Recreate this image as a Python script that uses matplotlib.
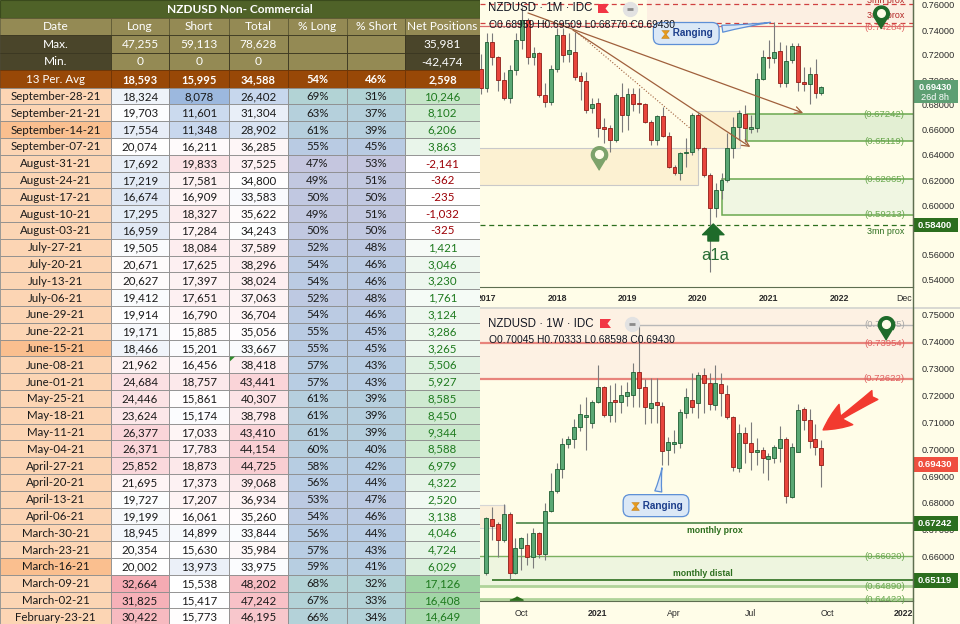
import numpy as np
import matplotlib
matplotlib.use("Agg")
import matplotlib.pyplot as plt
from matplotlib.patches import Rectangle, Polygon
from matplotlib.lines import Line2D
from matplotlib.colors import to_rgb
from matplotlib.ticker import FormatStrFormatter
from matplotlib.transforms import ScaledTranslation

plt.rcParams['font.family'] = ['Liberation Sans', 'DejaVu Sans']
TABLE_FONT = ['Lato', 'DejaVu Sans']

# ---------------- table data ----------------
table_title = "NZDUSD Non- Commercial"
headers = ["Date", "Long", "Short", "Total", "% Long", "% Short", "Net Positions"]
max_vals = [47255, 59113, 78628, 35981]
min_vals = [0, 0, 0, -42474]
avg_vals = [18593, 15995, 34588, 54, 46, 2598]

dates = ["September-28-21", "September-21-21", "September-14-21", "September-07-21",
         "August-31-21", "August-24-21", "August-17-21", "August-10-21", "August-03-21",
         "July-27-21", "July-20-21", "July-13-21", "July-06-21", "June-29-21",
         "June-22-21", "June-15-21", "June-08-21", "June-01-21", "May-25-21",
         "May-18-21", "May-11-21", "May-04-21", "April-27-21", "April-20-21",
         "April-13-21", "April-06-21", "March-30-21", "March-23-21", "March-16-21",
         "March-09-21", "March-02-21", "February-23-21"]
long_pos = [18324, 19703, 17554, 20074, 17692, 17219, 16674, 17295, 16959, 19505, 20671,
            20627, 19412, 19914, 19171, 18466, 21962, 24684, 24446, 23624, 26377, 26371,
            25852, 21695, 19727, 19199, 18945, 20354, 20002, 32664, 31825, 30422]
short_pos = [8078, 11601, 11348, 16211, 19833, 17581, 16909, 18327, 17284, 18084, 17625,
             17397, 17651, 16790, 15885, 15201, 16456, 18757, 15861, 15174, 17033, 17783,
             18873, 17373, 17207, 16061, 14899, 15630, 13973, 15538, 15417, 15773]
total_pos = [26402, 31304, 28902, 36285, 37525, 34800, 33583, 35622, 34243, 37589, 38296,
             38024, 37063, 36704, 35056, 33667, 38418, 43441, 40307, 38798, 43410, 44154,
             44725, 39068, 36934, 35260, 33844, 35984, 33975, 48202, 47242, 46195]
pct_long = [69, 63, 61, 55, 47, 49, 50, 49, 50, 52, 54, 54, 52, 54, 55, 55, 57, 57, 61,
            61, 61, 60, 58, 56, 53, 54, 56, 57, 59, 68, 67, 66]
pct_short = [31, 37, 39, 45, 53, 51, 50, 51, 50, 48, 46, 46, 48, 46, 45, 45, 43, 43, 39,
             39, 39, 40, 42, 44, 47, 46, 44, 43, 41, 32, 33, 34]
net_pos = [10246, 8102, 6206, 3863, -2141, -362, -235, -1032, -325, 1421, 3046, 3230, 1761,
           3124, 3286, 3265, 5506, 5927, 8585, 8450, 9344, 8588, 6979, 4322, 2520, 3138,
           4046, 4724, 6029, 17126, 16408, 14649]
highlight_dates = ["September-14-21", "June-15-21", "March-16-21"]

# ---------------- monthly candles (Dec 2016 .. Oct 2021) ----------------
m_open = [0.7090, 0.6935, 0.7307, 0.7187, 0.7000, 0.6853, 0.7080, 0.7320, 0.7480, 0.7187,
          0.7213, 0.6880, 0.6827, 0.7088, 0.7360, 0.7208, 0.7227, 0.7032, 0.6995, 0.6773,
          0.6813, 0.6621, 0.6613, 0.6520, 0.6867, 0.6720, 0.6890, 0.6810, 0.6805, 0.6667,
          0.6520, 0.6712, 0.6552, 0.6307, 0.6253, 0.6413, 0.6427, 0.6720, 0.6453, 0.6240,
          0.5973, 0.6120, 0.6200, 0.6453, 0.6627, 0.6725, 0.6605, 0.6613, 0.7005, 0.7181,
          0.7173, 0.7232, 0.6973, 0.7160, 0.7272, 0.6987, 0.6968, 0.7048, 0.68959]
m_high = [0.7210, 0.7373, 0.7373, 0.7195, 0.7067, 0.7120, 0.7373, 0.7587, 0.7500, 0.7265,
          0.7227, 0.6973, 0.7120, 0.7413, 0.7413, 0.7373, 0.7387, 0.7067, 0.7067, 0.6853,
          0.6853, 0.6693, 0.6640, 0.6893, 0.6973, 0.6940, 0.6940, 0.6933, 0.6820, 0.6680,
          0.6720, 0.6787, 0.6587, 0.6320, 0.6427, 0.6533, 0.6733, 0.6733, 0.6467, 0.6253,
          0.6173, 0.6253, 0.6573, 0.6707, 0.6760, 0.6800, 0.6720, 0.7053, 0.7240, 0.7320,
          0.7467, 0.7307, 0.7280, 0.7293, 0.7293, 0.7107, 0.7107, 0.7165, 0.69509]
m_low = [0.6890, 0.6907, 0.7120, 0.6915, 0.6840, 0.6813, 0.7040, 0.7250, 0.7130, 0.7120,
         0.6867, 0.6787, 0.6800, 0.7067, 0.7147, 0.7147, 0.7000, 0.6840, 0.6733, 0.6733,
         0.6547, 0.6493, 0.6427, 0.6507, 0.6587, 0.6600, 0.6750, 0.6733, 0.6653, 0.6480,
         0.6480, 0.6547, 0.6293, 0.6240, 0.6200, 0.6307, 0.6400, 0.6440, 0.6227, 0.5467,
         0.5907, 0.6050, 0.6187, 0.6380, 0.6520, 0.6507, 0.6573, 0.6587, 0.7000, 0.7093,
         0.7133, 0.6947, 0.6947, 0.7140, 0.6915, 0.6915, 0.6808, 0.6853, 0.68770]
m_close = [0.6935, 0.7307, 0.7187, 0.7000, 0.6853, 0.7080, 0.7320, 0.7480, 0.7187, 0.7213,
           0.6880, 0.6827, 0.7088, 0.7360, 0.7200, 0.7240, 0.7027, 0.6995, 0.6760, 0.6805,
           0.6613, 0.6605, 0.6520, 0.6880, 0.6720, 0.6890, 0.6810, 0.6805, 0.6667, 0.6520,
           0.6712, 0.6552, 0.6307, 0.6253, 0.6413, 0.6427, 0.6720, 0.6453, 0.6240, 0.5973,
           0.6120, 0.6200, 0.6453, 0.6627, 0.6733, 0.6613, 0.6620, 0.7005, 0.7181, 0.7173,
           0.7221, 0.6973, 0.7155, 0.7272, 0.6987, 0.6968, 0.7048, 0.6899, 0.69430]
month_ticks = [0, 12, 24, 36, 48, 60, 71]
month_labels = ["2017", "2018", "2019", "2020", "2021", "2022", "Dec"]
top_price_ticks = [0.54, 0.56, 0.60, 0.62, 0.64, 0.66, 0.68, 0.70, 0.72, 0.74, 0.76]

# ---------------- weekly candles (Aug 23 2020 .. Sep 26 2021) ----------------
w_open = [0.6538, 0.6739, 0.6721, 0.6662, 0.6757, 0.6540, 0.6633, 0.6643, 0.6600, 0.6687,
          0.6610, 0.6770, 0.6846, 0.6925, 0.7018, 0.7037, 0.7084, 0.7121, 0.7099, 0.7177,
          0.7231, 0.7128, 0.7183, 0.7175, 0.7198, 0.7202, 0.7289, 0.7230, 0.7155, 0.7175,
          0.7161, 0.6997, 0.7020, 0.7025, 0.7134, 0.7183, 0.7173, 0.7277, 0.7248, 0.7165,
          0.7243, 0.7206, 0.7121, 0.6929, 0.7059, 0.7022, 0.6991, 0.6999, 0.6965, 0.6966,
          0.7003, 0.7037, 0.6821, 0.6991, 0.7149, 0.7109, 0.7037, 0.70045]
w_high = [0.6749, 0.6786, 0.6730, 0.6796, 0.6767, 0.6668, 0.6674, 0.6687, 0.6705, 0.6693,
          0.6801, 0.6913, 0.6947, 0.7041, 0.7049, 0.7111, 0.7168, 0.7196, 0.7183, 0.7314,
          0.7235, 0.7239, 0.7245, 0.7239, 0.7252, 0.7320, 0.7463, 0.7260, 0.7264, 0.7264,
          0.7177, 0.7047, 0.7072, 0.7149, 0.7227, 0.7283, 0.7289, 0.7301, 0.7285, 0.7314,
          0.7285, 0.7239, 0.7125, 0.7094, 0.7082, 0.7103, 0.7041, 0.7010, 0.6987, 0.7016,
          0.7087, 0.7047, 0.7022, 0.7169, 0.7156, 0.7149, 0.7094, 0.70333]
w_low = [0.6532, 0.6662, 0.6600, 0.6655, 0.6513, 0.6535, 0.6550, 0.6569, 0.6556, 0.6594,
         0.6588, 0.6766, 0.6836, 0.6892, 0.7004, 0.7004, 0.7068, 0.6997, 0.7080, 0.7174,
         0.7119, 0.7103, 0.7103, 0.7134, 0.7161, 0.7159, 0.7159, 0.7094, 0.7099, 0.7097,
         0.6941, 0.6941, 0.6985, 0.7003, 0.7115, 0.7134, 0.7115, 0.7134, 0.7146, 0.7146,
         0.7124, 0.7111, 0.6920, 0.6917, 0.6948, 0.6923, 0.6941, 0.6910, 0.6886, 0.6948,
         0.6954, 0.6801, 0.6817, 0.6990, 0.7072, 0.7003, 0.6979, 0.68598]
w_close = [0.6743, 0.6715, 0.6662, 0.6757, 0.6540, 0.6633, 0.6668, 0.6600, 0.6687, 0.6610,
           0.6770, 0.6846, 0.6925, 0.7018, 0.7037, 0.7084, 0.7131, 0.7126, 0.7177, 0.7233,
           0.7128, 0.7176, 0.7175, 0.7201, 0.7214, 0.7289, 0.7227, 0.7159, 0.7171, 0.7165,
           0.6995, 0.7026, 0.7026, 0.7138, 0.7193, 0.7159, 0.7277, 0.7248, 0.7169, 0.7246,
           0.7208, 0.7121, 0.6933, 0.7059, 0.7022, 0.6991, 0.6995, 0.6966, 0.6975, 0.7007,
           0.7037, 0.6826, 0.7007, 0.7146, 0.7109, 0.7032, 0.7007, 0.69430]
week_ticks = [6, 19, 32, 45, 58, 71]
week_labels = ["Oct", "2021", "Apr", "Jul", "Oct", "2022"]
bottom_price_ticks = [0.66, 0.67, 0.68, 0.69, 0.70, 0.71, 0.72, 0.73, 0.74, 0.75]

# ---------------- colours ----------------
BG = '#fffde8'
UP, UP_E = '#5aa874', '#1f5d33'
DN, DN_E = '#e8453c', '#8e1d17'
WICK = '#7b7b7b'
DKGREEN = '#2c6e1e'
LTGREEN = '#6aa84f'

W, H = 960, 624


def fig_rect(x0, y0, x1, y1):
    return [x0 / W, 1 - y1 / H, (x1 - x0) / W, (y1 - y0) / H]


fig = plt.figure(figsize=(9.6, 6.24), dpi=100)
fig.patch.set_facecolor(BG)
ax1 = fig.add_axes(fig_rect(480, 0, 913, 287))
ax2 = fig.add_axes(fig_rect(480, 309, 913, 601))
axt = fig.add_axes(fig_rect(0, 0, 480, 624))


def draw_candles(ax, x, o, h, l, c, width, min_body):
    x = np.asarray(x, float)
    o, h, l, c = (np.asarray(v, float) for v in (o, h, l, c))
    up = c >= o
    ax.vlines(x, l, h, colors=WICK, linewidth=0.8, zorder=3)
    ax.bar(x, np.maximum(np.abs(c - o), min_body), width=width, bottom=np.minimum(o, c),
           color=np.where(up, UP, DN), edgecolor=np.where(up, UP_E, DN_E),
           linewidth=0.6, zorder=4)


def style_chart(ax, yticks):
    ax.set_facecolor(BG)
    for s in ['top', 'left']:
        ax.spines[s].set_visible(False)
    ax.spines['right'].set_color('#5e6e50')
    ax.spines['bottom'].set_color('#5e6e50')
    ax.yaxis.tick_right()
    ax.set_yticks(yticks)
    ax.yaxis.set_major_formatter(FormatStrFormatter('%.5f'))
    ax.tick_params(axis='y', length=0, pad=6, labelsize=6.6, labelcolor='#2b2b2b')
    ax.tick_params(axis='x', length=0, pad=5, labelsize=6.3, labelcolor='#2b2b2b')


def price_tag(ax, price, text, fc, half):
    tr = ax.get_yaxis_transform()
    ax.add_patch(Rectangle((1.0, price - half), 45 / 433, 2 * half, transform=tr,
                           fc=fc, ec='none', clip_on=False, zorder=9))
    if text:
        ax.text(1 + 22 / 433, price, text, transform=tr, ha='center', va='center',
                color='white', fontsize=6.8, fontweight='bold', clip_on=False, zorder=10)


PIN = [(np.cos(a), 0.45 + np.sin(a)) for a in np.linspace(np.radians(-40), np.radians(220), 30)]
PIN.append((0, -1.45))
HOURGLASS = [(-1, 1), (1, 1), (0.15, 0), (1, -1), (-1, -1), (-0.15, 0)]


def pin(ax, x, y, color, ms):
    ax.plot([x], [y], marker=PIN, ms=ms, color=color, mec=color, ls='none', zorder=8, clip_on=False)
    off = ScaledTranslation(0, ms * 0.45 / 2.9 / 72, fig.dpi_scale_trans)
    ax.plot([x], [y], marker='o', ms=ms * 0.33, color=BG, mec=BG, ls='none', zorder=9,
            transform=ax.transData + off, clip_on=False)


def callout(ax, tip, center):
    ax.annotate("     Ranging", xy=tip, xytext=center, ha='center', va='center', fontsize=7.2,
                color='#1d3f8c', fontweight='bold', zorder=9,
                bbox=dict(boxstyle='round,pad=0.6,rounding_size=0.7', fc='#dbe8f6', ec='#5d8fd6', lw=0.9),
                arrowprops=dict(arrowstyle='wedge,tail_width=0.7,shrink_factor=0.35',
                                fc='#dbe8f6', ec='#5d8fd6', lw=0.9))
    off = ScaledTranslation(-15 / 72, 0, fig.dpi_scale_trans)
    ax.plot([center[0]], [center[1]], marker=HOURGLASS, ms=5.5, color='#e69a1c', mec='#c27a10',
            mew=0.4, ls='none', zorder=10, transform=ax.transData + off)


# ================= top chart (monthly) =================
style_chart(ax1, top_price_ticks)
ax1.set_xlim(-6.5 / 5.875, 426.5 / 5.875)
ax1.set_ylim(0.764 - 287 / 1250, 0.764)
XR1 = 426.5 / 5.875

ax1.add_patch(Rectangle((27.3, 0.7456), XR1 - 27.3, 0.02, fc='#fcefe2', ec='none', zorder=0.5))
ax1.add_patch(Rectangle((-2, 0.616), 38.0, 0.6456 - 0.616, fc='#fcf1d2', ec='#c9c9c9', lw=0.8, zorder=0.6))
ax1.add_patch(Rectangle((36.0, 0.6456), 7.2, 0.6752 - 0.6456, fc='#fcf0d0', ec='#cfcfcf', lw=0.8, zorder=0.6))
ax1.add_patch(Rectangle((44.3, 0.65119), XR1 - 44.3 + 1, 0.67242 - 0.65119, fc='#e3efd3',
                        ec=LTGREEN, lw=1.1, zorder=0.7))
ax1.add_patch(Rectangle((40.1, 0.59213), XR1 - 40.1 + 1, 0.62065 - 0.59213, fc='#f0f6e2',
                        ec=LTGREEN, lw=1.1, zorder=0.7))

ax1.axhline(0.7605, color='#d04040', ls=(0, (4, 3)), lw=0.9, zorder=2)
ax1.axhline(0.7454, color='#d04040', ls=(0, (4, 3)), lw=0.9, zorder=2)
ax1.axhline(0.74284, color='#d96b6b', lw=0.9, zorder=2)
ax1.axhline(0.584, color=DKGREEN, ls=(0, (4, 3)), lw=0.9, zorder=2)

ax1.plot([15.3, 34.6], [0.7385, 0.6616], ls=':', color='#a0603c', lw=0.8, zorder=5)
for start, end in [((7.06, 0.7536), (53.9, 0.6736)), ((14.7, 0.7400), (44.9, 0.6464))]:
    ax1.annotate('', xy=end, xytext=start, zorder=5,
                 arrowprops=dict(arrowstyle='->,head_length=0.5,head_width=0.25',
                                 color='#a0603c', lw=0.9, shrinkA=0, shrinkB=0))

draw_candles(ax1, np.arange(-1, 58), m_open, m_high, m_low, m_close, 0.68, 0.0012)

lx1 = 71.2
ax1.text(lx1, 0.7637, "3mn prox", ha='right', va='center', fontsize=6.4, color='#b22222', clip_on=True)
ax1.text(lx1, 0.7516, "3mn prox", ha='right', va='center', fontsize=6.4, color='#b22222')
ax1.text(lx1, 0.7416, "(0.74284)", ha='right', va='center', fontsize=6.8, color='#e06666')
ax1.text(lx1, 0.67242, "(0.67242)", ha='right', va='center', fontsize=6.8, color=LTGREEN, zorder=6)
ax1.text(lx1, 0.65119, "(0.65119)", ha='right', va='center', fontsize=6.8, color=LTGREEN, zorder=6)
ax1.text(lx1, 0.62065, "(0.62065)", ha='right', va='center', fontsize=6.8, color=LTGREEN, zorder=6)
ax1.text(lx1, 0.59213, "(0.59213)", ha='right', va='center', fontsize=6.8, color=LTGREEN, zorder=6)
ax1.text(lx1, 0.5784, "3mn prox", ha='right', va='center', fontsize=6.4, color=DKGREEN)

pin(ax1, 67.1, 0.7508, '#1e6b2a', 16.5)
pin(ax1, 19.1, 0.6376, '#7da36b', 17)
callout(ax1, (48.8, 0.7464), (34.0, 0.7372))
ax1.annotate('', xy=(38.6, 0.5848), xytext=(38.6, 0.5712), zorder=8,
             arrowprops=dict(arrowstyle='simple,head_length=0.55,head_width=1.1,tail_width=0.55',
                             fc='#1e6b2a', ec='#1e6b2a', mutation_scale=14, shrinkA=0, shrinkB=0))
ax1.text(38.9, 0.5592, "a1a", ha='center', va='center', fontsize=12, color='#2a6e36', zorder=8)

ax1.set_xticks(month_ticks)
ax1.set_xticklabels(month_labels)
for lbl in ax1.get_xticklabels():
    if lbl.get_text().isdigit():
        lbl.set_fontweight('bold')

f1x = lambda x: (x - 480) / 433
f1y = lambda y: 1 - y / 287
ax1.text(f1x(488), f1y(8), "NZDUSD · 1M · IDC", transform=ax1.transAxes, ha='left', va='center',
         fontsize=8.3, color='#131722', zorder=9)
ax1.text(f1x(489), f1y(25), "O0.68959 H0.69509 L0.68770 C0.69430", transform=ax1.transAxes,
         ha='left', va='center', fontsize=7.4, color='#131722', zorder=9)
ax1.add_patch(Polygon([(f1x(598), f1y(4)), (f1x(609), f1y(4)), (f1x(605.5), f1y(8.5)),
                       (f1x(609), f1y(13)), (f1x(598), f1y(13))], closed=True,
                      transform=ax1.transAxes, fc='#f23645', ec='none', zorder=9))
ax1.plot([f1x(630)], [f1y(9)], 'o', ms=10, color='#e2e2e2', transform=ax1.transAxes, zorder=9)
ax1.plot([f1x(630)], [f1y(9)], '_', ms=5, mew=2, color='#8a8a8a', transform=ax1.transAxes, zorder=10)

price_tag(ax1, 0.6910, "", '#5e9f73', 0.0090)
ax1.text(1 + 22 / 433, 0.6936, "0.69430", transform=ax1.get_yaxis_transform(), ha='center',
         va='center', color='white', fontsize=6.6, fontweight='bold', clip_on=False, zorder=10)
ax1.text(1 + 22 / 433, 0.6862, "26d 8h", transform=ax1.get_yaxis_transform(), ha='center',
         va='center', color='white', fontsize=6.6, clip_on=False, zorder=10)
price_tag(ax1, 0.584, "0.58400", DKGREEN, 0.0058)

# ================= bottom chart (weekly) =================
style_chart(ax2, bottom_price_ticks)
ax2.set_xlim(-6 / 5.883, 427 / 5.883)
ax2.set_ylim(0.75 - 286 / 2685, 0.75 + 6 / 2685)
XR2 = 427 / 5.883

ax2.axhspan(0.72622, 0.76, color='#fdf1e3', zorder=0.5, lw=0)
ax2.axhspan(0.6489, 0.6602, color='#eef5df', zorder=0.5, lw=0)
ax2.add_patch(Rectangle((-2, 0.6706), 5.2, 0.0086, fc='#fcefd8', ec='#d6d6d6', lw=0.8, zorder=0.6))
ax2.axhline(0.73954, color='#e8847c', lw=1.6, zorder=2)
ax2.axhline(0.72622, color='#e8847c', lw=1.6, zorder=2)
ax2.hlines(0.74635, 26, XR2 + 1, color='#b8b8b8', lw=1, zorder=2)
ax2.hlines(0.67242, 5.1, XR2 + 1, color='#3a7a3a', lw=1.1, zorder=2)
ax2.axhline(0.66020, color='#7cb060', lw=1, zorder=2)
ax2.hlines(0.65119, 1.0, XR2 + 1, color=DKGREEN, lw=1.2, zorder=2)
ax2.axhline(0.64890, color='#b0d39a', lw=2, zorder=2)
ax2.axhline(0.64422, color='#b0d39a', lw=2, zorder=2)

draw_candles(ax2, np.arange(len(w_open)), w_open, w_high, w_low, w_close, 0.68, 0.0005)

lx2 = (905 - 486) / 5.883
ax2.text(lx2, 0.74635, "(0.74635)", ha='right', va='center', fontsize=6.8, color='#a8a8a8')
ax2.text(lx2, 0.73954, "(0.73954)", ha='right', va='center', fontsize=6.8, color='#e06060')
ax2.text(lx2, 0.72622, "(0.72622)", ha='right', va='center', fontsize=6.8, color='#e06060')
ax2.text(lx2, 0.66020, "(0.66020)", ha='right', va='center', fontsize=6.8, color=LTGREEN)
ax2.text(lx2, 0.64890, "(0.64890)", ha='right', va='center', fontsize=6.8, color=LTGREEN)
ax2.text(lx2, 0.64422, "(0.64422)", ha='right', va='center', fontsize=6.8, color=LTGREEN)
ax2.text(38.9, 0.6696, "monthly prox", ha='center', va='center', fontsize=6.3,
         color=DKGREEN, fontweight='bold')
ax2.text(36.9, 0.6539, "monthly distal", ha='center', va='center', fontsize=6.3,
         color=DKGREEN, fontweight='bold')
ax2.plot([5.1], [0.6447], marker=[(-1, -0.25), (1, -0.25), (0, 0.25)], ms=9.5, color=DKGREEN,
         ls='none', zorder=6, clip_on=False)

pin(ax2, 68.0, 0.7453, '#1e6b2a', 17)
callout(ax2, (30.0, 0.6941), (28.9, 0.6790))
ax2.annotate('', xy=(57.3, 0.7072), xytext=(66.1, 0.7202), zorder=8,
             arrowprops=dict(arrowstyle='fancy,head_length=0.9,head_width=0.8,tail_width=0.35',
                             fc='#f23a2f', ec='#f23a2f', mutation_scale=22, shrinkA=0, shrinkB=0))

ax2.set_xticks(week_ticks)
ax2.set_xticklabels(week_labels)
ax2.tick_params(axis='x', pad=6)
for lbl in ax2.get_xticklabels():
    if lbl.get_text().isdigit():
        lbl.set_fontweight('bold')

f2x = lambda x: (x - 480) / 433
f2y = lambda y: 1 - (y - 309) / 292
ax2.text(f2x(488), f2y(324), "NZDUSD · 1W · IDC", transform=ax2.transAxes, ha='left', va='center',
         fontsize=8.3, color='#131722', zorder=9)
ax2.text(f2x(489), f2y(340), "O0.70045 H0.70333 L0.68598 C0.69430", transform=ax2.transAxes,
         ha='left', va='center', fontsize=7.4, color='#131722', zorder=9)
ax2.add_patch(Polygon([(f2x(600), f2y(319)), (f2x(611), f2y(319)), (f2x(607.5), f2y(323.5)),
                       (f2x(611), f2y(328)), (f2x(600), f2y(328))], closed=True,
                      transform=ax2.transAxes, fc='#f23645', ec='none', zorder=9))
ax2.plot([f2x(632)], [f2y(324)], 'o', ms=10, color='#e2e2e2', transform=ax2.transAxes, zorder=9)
ax2.plot([f2x(632)], [f2y(324)], '_', ms=5, mew=2, color='#8a8a8a', transform=ax2.transAxes, zorder=10)

price_tag(ax2, 0.6943, "0.69430", '#ef4f3f', 0.0027)
price_tag(ax2, 0.67242, "0.67242", DKGREEN, 0.0027)
price_tag(ax2, 0.65119, "0.65119", DKGREEN, 0.0027)

# pane separator and price-scale border
fig.add_artist(Rectangle((480 / W, 1 - 309 / H), 480 / W, 2.5 / H, transform=fig.transFigure,
                         fc='#d9d9d2', ec='none'))
fig.add_artist(Line2D([913 / W, 913 / W], [0, 1], transform=fig.transFigure, color='#5e6e50', lw=1))

# ================= table =================
axt.set_xlim(0, 480)
axt.set_ylim(624, 0)
axt.axis('off')
col_x = [0, 111, 169, 229, 288, 347, 405, 480]


def blend(c1, c2, t):
    a, b = np.array(to_rgb(c1)), np.array(to_rgb(c2))
    return tuple(a + (b - a) * float(np.clip(t, 0, 1)))


def scale3(v, lo, mid, hi, c_lo, c_mid, c_hi):
    if v <= mid:
        return blend(c_mid, c_lo, (mid - v) / (mid - lo))
    return blend(c_mid, c_hi, (v - mid) / (hi - mid))


def cell(c, y0, y1, fc, txt, color='#1a1a1a', bold=False, ec='#8c8c8c', size=8.3):
    x0, x1 = col_x[c], col_x[c + 1]
    axt.add_patch(Rectangle((x0, y0), x1 - x0, y1 - y0, fc=fc, ec=ec, lw=0.6))
    if txt:
        axt.text((x0 + x1) / 2, (y0 + y1) / 2 + 0.6, txt, ha='center', va='center',
                 fontsize=size, color=color, fontweight='bold' if bold else 'normal',
                 family=TABLE_FONT)


axt.add_patch(Rectangle((0, 0), 480, 17.5, fc='#4f6228', ec='#3a4a1c', lw=0.8))
axt.text(240, 9.2, table_title, ha='center', va='center', fontsize=8.6, color='white',
         fontweight='bold', family=TABLE_FONT)
for c, hname in enumerate(headers):
    cell(c, 17.5, 35, '#948a54', hname, 'white', ec='#5f5a35', size=8.6)

DARK, KHAKI = '#4a452a', '#948a54'
max_txt = ["Max.", f"{max_vals[0]:,}", f"{max_vals[1]:,}", f"{max_vals[2]:,}", "", "", f"{max_vals[3]:,}"]
min_txt = ["Min.", f"{min_vals[0]:,}", f"{min_vals[1]:,}", f"{min_vals[2]:,}", "", "", f"{min_vals[3]:,}"]
fills = [DARK, KHAKI, KHAKI, KHAKI, KHAKI, KHAKI, DARK]
for c in range(7):
    cell(c, 35, 52.5, fills[c], max_txt[c], 'white', ec='#3a3620', size=8.6)
    cell(c, 52.5, 70, fills[c], min_txt[c], 'white', ec='#3a3620', size=8.6)
avg_txt = ["13 Per. Avg", f"{avg_vals[0]:,}", f"{avg_vals[1]:,}", f"{avg_vals[2]:,}",
           f"{avg_vals[3]}%", f"{avg_vals[4]}%", f"{avg_vals[5]:,}"]
for c in range(7):
    cell(c, 70, 87.5, '#984807', avg_txt[c], 'white', bold=(c > 0), ec='#6e3405',
         size=8.3 if c == 0 else 8.0)

BLUE, WHITE, PINK = '#9bb7de', '#ffffff', '#f39ca5'
RH = 16.8
for i, d in enumerate(dates):
    y0 = 87.5 + i * RH
    y1 = y0 + RH
    cell(0, y0, y1, '#fabf8f' if d in highlight_dates else '#fcd5b4', d)
    cell(1, y0, y1, scale3(long_pos[i], 10000, 20000, 35000, BLUE, WHITE, PINK), f"{long_pos[i]:,}")
    cell(2, y0, y1, scale3(short_pos[i], 8000, 15500, 30000, BLUE, WHITE, PINK), f"{short_pos[i]:,}")
    cell(3, y0, y1, scale3(total_pos[i], 20000, 34500, 55000, BLUE, WHITE, PINK), f"{total_pos[i]:,}")
    cell(4, y0, y1, scale3(pct_long[i], 45, 56, 70, '#c8c5de', '#b8cce4', '#b2d4d4'), f"{pct_long[i]}%")
    cell(5, y0, y1, scale3(pct_short[i], 30, 44, 55, '#b2d4d4', '#b8cce4', '#c8c5de'), f"{pct_short[i]}%")
    cell(6, y0, y1, blend('#ffffff', '#9ad29f', net_pos[i] / 18000), f"{net_pos[i]:,}",
         color='#1e7a1e' if net_pos[i] >= 0 else '#9c0006')

# small excel marker in the June-08 total cell
jy = 87.5 + dates.index("June-08-21") * RH
axt.add_patch(Polygon([(230, jy + 0.3), (235, jy + 0.3), (230, jy + 5)], closed=True,
                      fc='#2e8b2e', ec='none'))

fig.savefig("out.png", dpi=100, facecolor=fig.get_facecolor())
